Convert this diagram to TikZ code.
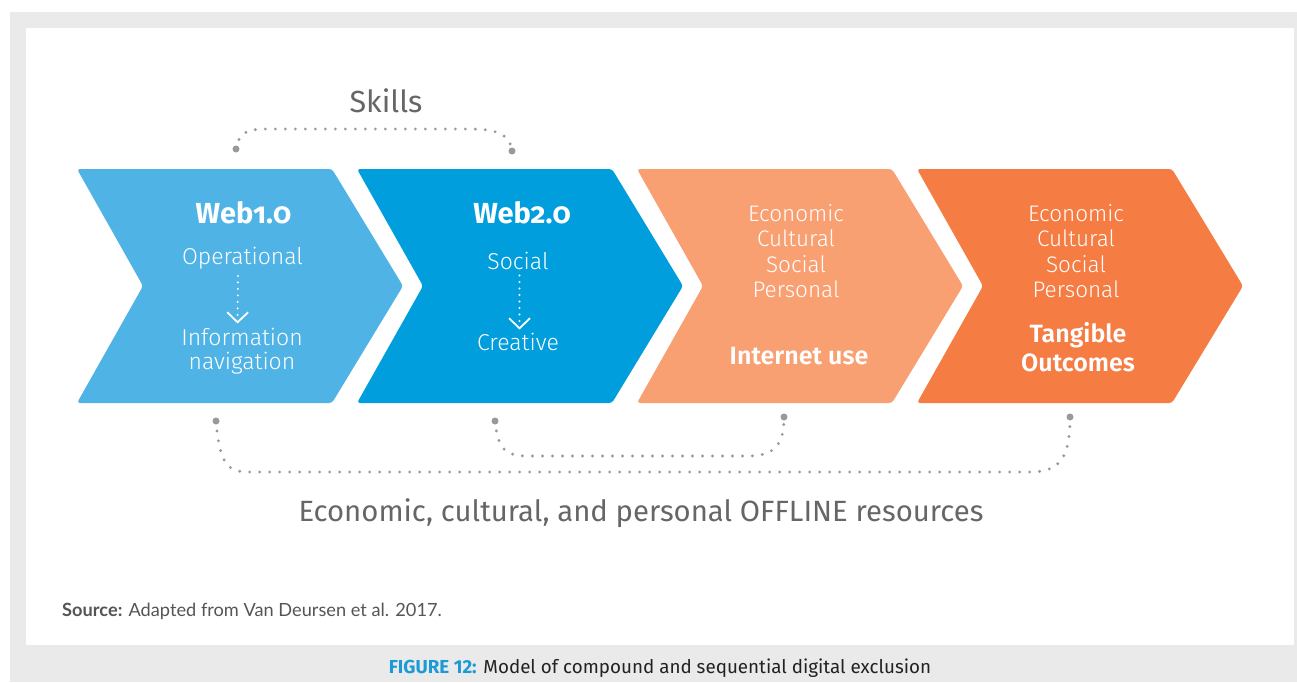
\documentclass[tikz,border=0pt]{standalone}
\usepackage{fontspec}
\setmainfont{Fira Sans}
\newfontfamily\firaold[Numbers=OldStyle]{Fira Sans}
\newfontfamily\firalight{Fira Sans Light}
\newfontfamily\firasemi{Fira Sans SemiBold}
\newfontfamily\latofam{Lato}
\usetikzlibrary{arrows.meta}
\definecolor{bggray}{HTML}{EAEAEA}
\definecolor{chevA}{HTML}{4FB3E6}
\definecolor{chevB}{HTML}{009EDC}
\definecolor{chevC}{HTML}{F9A073}
\definecolor{chevD}{HTML}{F57C43}
\definecolor{txtgray}{HTML}{666666}
\definecolor{dotgray}{HTML}{999999}
\definecolor{capblue}{HTML}{1B9AD6}
\definecolor{capdark}{HTML}{222222}
\definecolor{srcgray}{HTML}{555555}
\tikzset{
  ctext/.style={text=white, anchor=base, inner sep=0pt, font=\firalight\fontsize{23}{26}\selectfont},
  ltext/.style={text=white, anchor=base, inner sep=0pt, font=\firalight\fontsize{22.5}{24}\selectfont},
  htext/.style={text=white, anchor=base, inner sep=0pt, font=\firaold\bfseries\fontsize{29}{32}\selectfont},
  btext/.style={text=white, anchor=base, inner sep=0pt, font=\firasemi\fontsize{25}{28}\selectfont},
  dotline/.style={dotgray, line width=3.2pt, line cap=round, dash pattern=on 0pt off 10pt},
  enddot/.style={circle, fill=dotgray, inner sep=0pt, minimum size=7pt},
  warrow/.style={white, line width=2.2pt, line cap=round, dash pattern=on 0pt off 6.5pt,
    -{Straight Barb[length=10pt,width=21pt,line width=1.8pt]}},
}
\begin{document}
\begin{tikzpicture}[x=1pt,y=-1pt]
\useasboundingbox (0,0) rectangle (1297,682);
\fill[bggray] (10,12) rectangle (1297,682);
\fill[white] (26,28) rectangle (1294,645);
% chevrons
\foreach \x/\c in {77/chevA,357/chevB,637/chevC,917/chevD}{
  \fill[\c, rounded corners=3pt] (\x+120,169) -- (\x+255,169) -- (\x+326,286) -- (\x+255,403)
     -- (\x,403) -- (\x+66,286) -- (\x,169) -- cycle;
}
% chevron 1
\node[htext] (w1) at (243.5,223) {Web1.0};
\node[ctext] (op) at (242.5,264) {Operational};
\node[ctext] (info) at (242,345) {Information};
\node[ctext] (nav) at (242,369) {navigation};
\draw[warrow, shorten <=7pt, shorten >=4pt] ([xshift=-4.5pt]op.south) -- ([xshift=-4.5pt]info.north);
% chevron 2
\node[htext] (w2) at (522,223) {Web2.0};
\node[ctext] (soc) at (518,269) {Social};
\node[ctext] (cre) at (518,350) {Creative};
\draw[warrow, shorten <=6pt, shorten >=3pt] ([xshift=1.5pt]soc.south) -- ([xshift=1.5pt]cre.north);
% chevron 3
\node[ltext] (c3a) at (796,221) {Economic};
\node[ltext] (c3b) at (796,246.5) {Cultural};
\node[ltext] (c3c) at (796,272) {Social};
\node[ltext] (c3d) at (796,297) {Personal};
\node[btext] (iu) at (799,364) {Internet use};
% chevron 4
\node[ltext] (c4a) at (1076,221) {Economic};
\node[ltext] (c4b) at (1076,246.5) {Cultural};
\node[ltext] (c4c) at (1076,272) {Social};
\node[ltext] (c4d) at (1076,297) {Personal};
\node[btext] (tg) at (1078,342) {Tangible};
\node[btext] (oc) at (1078,371) {Outcomes};
% skills
\node[text=txtgray, anchor=base, inner sep=0pt, font=\fontsize{30.5}{34}\selectfont] (sk) at (386,113) {Skills};
\node[enddot] (s1) at (236,149) {};
\node[enddot] (s2) at (512,151) {};
\draw[dotline] (s1.center) .. controls (239,132) and (248,129) .. (266,129) -- (470,129)
   .. controls (494,129) and (510,133) .. (s2.center);
% offline resources
\node[enddot] (b1) at (216,421) {};
\node[enddot] (b2) at (1070,417) {};
\node[enddot] (b3) at (495,421) {};
\node[enddot] (b4) at (784,417) {};
\draw[dotline] (b1.center) .. controls (220,466) and (228,472) .. (250,472) -- (1030,472)
   .. controls (1062,472) and (1070,455) .. (b2.center);
\draw[dotline] (b3.center) .. controls (498,450) and (506,456) .. (528,456) -- (748,456)
   .. controls (776,456) and (784,443) .. (b4.center);
\node[text=txtgray, anchor=base, inner sep=0pt, font=\fontsize{29.3}{34}\selectfont] (off) at (641,521)
  {Economic, cultural, and personal OFFLINE resources};
% source and caption
\node[text=srcgray, anchor=base west, inner sep=0pt, font=\latofam\fontsize{18.2}{21}\selectfont] (src) at (62,616)
  {\textbf{Source:} Adapted from Van Deursen et al. 2017.};
\node[anchor=base, inner sep=0pt, font=\fontsize{18.8}{21}\selectfont] (cap) at (660,673)
  {\textcolor{capblue}{\bfseries FIGURE 12:} \textcolor{capdark}{Model of compound and sequential digital exclusion}};
\end{tikzpicture}
\end{document}
